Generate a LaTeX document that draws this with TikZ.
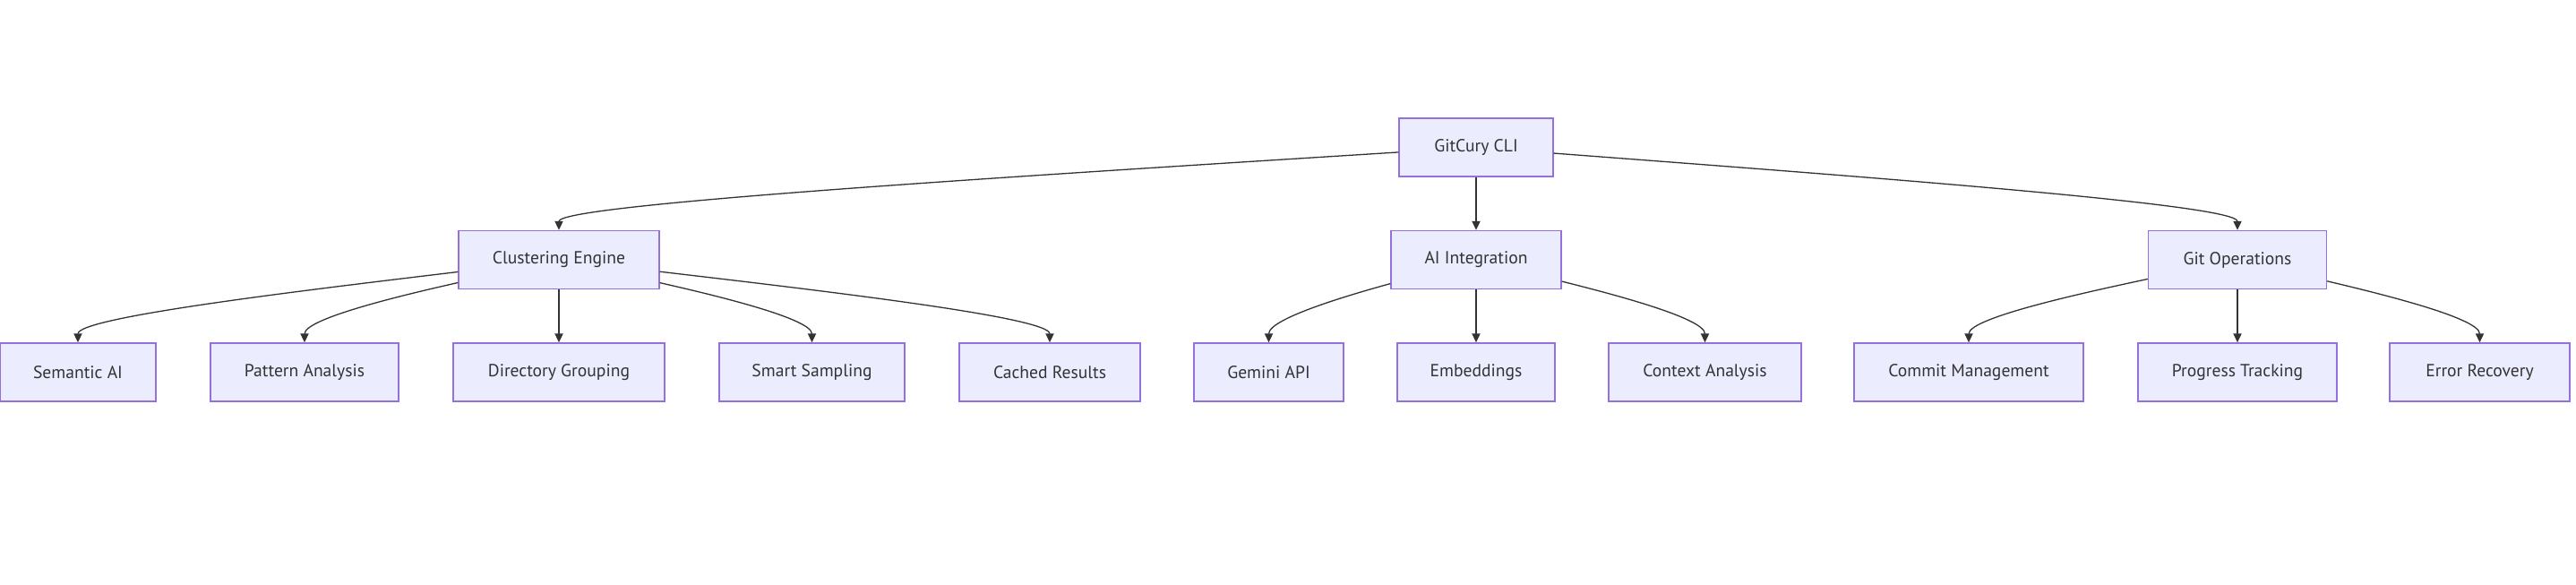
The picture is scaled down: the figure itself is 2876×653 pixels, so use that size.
\documentclass[tikz,border=0pt]{standalone}
\usepackage{fontspec}
\setmainfont{PT Sans}
\usetikzlibrary{arrows.meta,calc}
\definecolor{boxfill}{HTML}{ECECFF}
\definecolor{boxborder}{HTML}{9370DB}
\definecolor{linec}{HTML}{333333}
\definecolor{textc}{HTML}{333333}
\tikzset{
  box/.style={draw=boxborder, fill=boxfill, line width=0.7pt, minimum height=32.5pt,
    inner sep=0pt, text=textc, font=\fontsize{9.8}{11.5}\selectfont},
  edge/.style={draw=linec, line width=0.65pt, -{Triangle[length=5pt,width=4.6pt]}},
}
\newcommand\gcedge[2]{%
  \path (#2.north) ++(0,-28) coordinate (k-#2);
  \draw[edge] (#1) .. controls ($(#1)!0.55!(k-#2)$) and (k-#2) .. (#2.north);}
\begin{document}
\begin{tikzpicture}[x=0.5pt,y=-0.5pt]
\useasboundingbox (0,0) rectangle (2876,653);
% level 1
\node[box, minimum width=86pt] (gc) at (1648,164.5) {GitCury CLI};
% level 2
\node[box, minimum width=112pt] (ce) at (624,290) {Clustering Engine};
\node[box, minimum width=95pt] (ai) at (1648,290) {AI Integration};
\node[box, minimum width=99.5pt] (go) at (2498,290) {Git Operations};
% level 3
\node[box, minimum width=87pt] (sa) at (87,415.5) {Semantic AI};
\node[box, minimum width=105pt] (pa) at (340,415.5) {Pattern Analysis};
\node[box, minimum width=118pt] (dg) at (624,415.5) {Directory Grouping};
\node[box, minimum width=103.5pt] (ss) at (906.5,415.5) {Smart Sampling};
\node[box, minimum width=101pt] (cr) at (1172,415.5) {Cached Results};
\node[box, minimum width=83.5pt] (gem) at (1416.5,415.5) {Gemini API};
\node[box, minimum width=88pt] (emb) at (1648,415.5) {Embeddings};
\node[box, minimum width=107.5pt] (ca) at (1903.5,415.5) {Context Analysis};
\node[box, minimum width=128pt] (cm) at (2198,415.5) {Commit Management};
\node[box, minimum width=111pt] (prt) at (2498,415.5) {Progress Tracking};
\node[box, minimum width=100.5pt] (er) at (2768.5,415.5) {Error Recovery};
% edges
\gcedge{gc}{ce}
\draw[edge] (gc) -- (ai);
\gcedge{gc}{go}
\gcedge{ce}{sa}
\gcedge{ce}{pa}
\draw[edge] (ce) -- (dg);
\gcedge{ce}{ss}
\gcedge{ce}{cr}
\gcedge{ai}{gem}
\draw[edge] (ai) -- (emb);
\gcedge{ai}{ca}
\gcedge{go}{cm}
\draw[edge] (go) -- (prt);
\gcedge{go}{er}
\end{tikzpicture}
\end{document}
